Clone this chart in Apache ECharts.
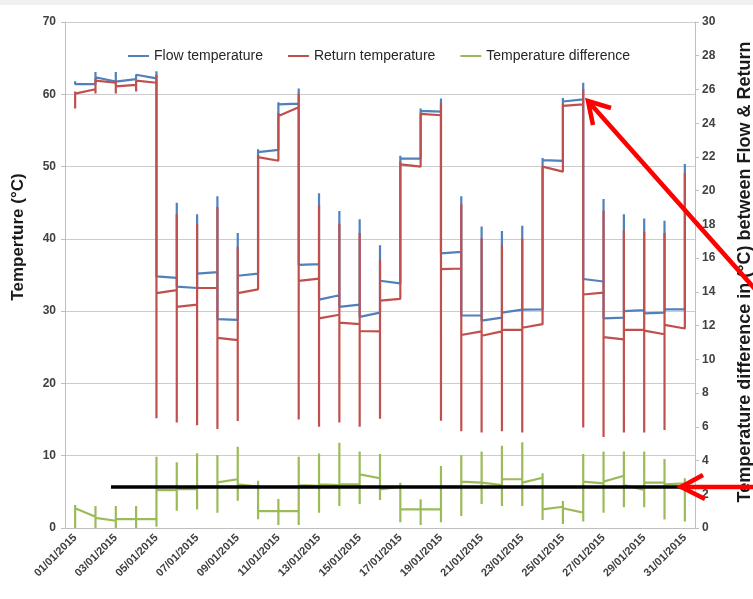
<!DOCTYPE html>
<html>
<head>
<meta charset="utf-8">
<script src="https://cdn.jsdelivr.net/npm/echarts@6/dist/echarts.min.js"></script>
<style>
  html, body { margin: 0; padding: 0; background: #fff; }
  #chart { width: 753px; height: 599px; }
</style>
</head>
<body>
<div id="chart"></div>
<script>
// days on the category axis
var days = ["01/01/2015", "02/01/2015", "03/01/2015", "04/01/2015", "05/01/2015", "06/01/2015",
  "07/01/2015", "08/01/2015", "09/01/2015", "10/01/2015", "11/01/2015", "12/01/2015",
  "13/01/2015", "14/01/2015", "15/01/2015", "16/01/2015", "17/01/2015", "18/01/2015",
  "19/01/2015", "20/01/2015", "21/01/2015", "22/01/2015", "23/01/2015", "24/01/2015",
  "25/01/2015", "26/01/2015", "27/01/2015", "28/01/2015", "29/01/2015", "30/01/2015",
  "31/01/2015"];

// readings of each day: first, lowest, highest, last (all drawn at the same day)
var flowFirst = [61.8, 61.4, 61.75, 62.1, 62.2, 34.6, 33.2, 35.4, 28.8, 35.2, 52.3, 58.7, 36.5, 32.2, 30.9, 29.8,
  33.85, 51.1, 57.6, 38.2, 29.4, 29.1, 30.2, 30.25, 50.8, 59.3, 34.1, 29.1, 30.15, 29.8, 30.25];
var flowLow = [61.4, 61.4, 61.75, 62.1, 34.8, 33.4, 33.2, 28.9, 28.8, 35.2, 52.3, 36.4, 31.6, 30.6, 29.2, 29.8,
  33.85, 51.1, 38.0, 29.4, 28.7, 29.1, 30.2, 30.25, 50.8, 34.45, 29.0, 29.1, 29.7, 29.8, 30.25];
var flowHigh = [61.8, 63.1, 63.1, 62.7, 63.2, 45.0, 43.4, 45.9, 40.8, 52.4, 58.9, 60.8, 46.3, 43.85, 42.7, 39.1,
  51.5, 58.05, 59.4, 45.9, 41.7, 41.1, 41.8, 51.2, 59.5, 61.6, 45.5, 43.4, 42.8, 42.5, 50.35];
var flowLast = [61.4, 62.35, 61.75, 62.6, 34.8, 33.4, 35.2, 28.9, 34.9, 52.0, 58.6, 36.4, 31.6, 30.6, 29.2, 34.2,
  51.1, 57.7, 38.0, 29.4, 28.7, 29.8, 30.2, 50.9, 59.0, 34.45, 29.0, 30.0, 29.7, 30.25, 50.35];

var returnFirst = [60.4, 60.7, 61.6, 61.3, 61.6, 32.9, 30.9, 33.2, 26.0, 33.0, 50.8, 58.2, 34.5, 29.5, 28.2, 27.2,
  31.7, 50.0, 57.1, 35.9, 27.2, 27.2, 27.4, 28.2, 49.3, 58.6, 32.55, 26.1, 27.4, 26.8, 27.6];
var returnLow = [58.05, 60.1, 60.1, 60.4, 15.2, 14.6, 14.2, 13.7, 14.8, 33.0, 50.8, 15.0, 14.0, 14.6, 14.0, 15.1,
  31.7, 50.0, 14.85, 13.4, 13.2, 13.4, 13.2, 28.2, 49.3, 13.9, 12.6, 13.2, 13.2, 13.55, 27.6];
var returnHigh = [60.4, 62.2, 61.9, 61.9, 62.7, 43.4, 42.1, 44.4, 38.9, 51.6, 57.4, 60.1, 44.7, 42.1, 40.8, 37.1,
  50.7, 57.3, 58.8, 44.8, 40.1, 39.2, 40.1, 50.0, 58.7, 60.7, 43.9, 41.2, 41.0, 40.8, 49.1];
var returnLast = [60.1, 61.9, 61.1, 61.75, 32.5, 30.6, 33.2, 26.3, 32.5, 51.3, 57.0, 34.2, 29.0, 28.4, 27.25, 31.45,
  50.3, 57.1, 35.8, 26.7, 26.6, 27.4, 27.7, 49.9, 58.4, 32.3, 26.4, 27.4, 27.3, 28.1, 49.1];

var diffFirst = [1.36, 0.67, 0.43, 0.53, 0.53, 2.25, 2.3, 2.45, 2.89, 2.45, 1.0, 1.0, 2.5, 2.55, 2.6, 2.95,
  2.45, 1.1, 1.1, 2.45, 2.69, 2.55, 2.89, 2.98, 1.26, 0.91, 2.65, 3.1, 2.25, 2.69, 2.65];
var diffLow = [0, 0, 0, 0, 0.08, 1.03, 1.1, 0.9, 1.62, 0.52, 0.18, 0.18, 0.91, 1.3, 1.42, 1.66,
  0.34, 0.18, 0.34, 0.71, 1.42, 1.3, 1.3, 0.47, 0.24, 0.38, 0.91, 1.23, 1.23, 0.51, 0.38];
var diffHigh = [1.36, 1.3, 1.3, 1.3, 4.23, 3.9, 4.43, 4.33, 4.82, 2.8, 1.72, 4.23, 4.42, 5.06, 4.53, 4.39,
  2.69, 1.7, 3.68, 4.33, 4.53, 4.88, 5.08, 3.24, 1.6, 4.39, 4.53, 4.53, 4.53, 4.09, 2.95];
var diffLast = [1.17, 0.6, 0.53, 0.53, 2.25, 2.3, 2.45, 2.71, 2.59, 1.0, 1.0, 2.55, 2.59, 2.59, 3.18, 2.29,
  1.1, 1.1, 2.45, 2.75, 2.69, 2.89, 2.69, 1.1, 1.17, 2.75, 2.75, 2.55, 2.69, 2.59, 2.95];

var leftTicks = { min: 0, max: 70, step: 10 };
var rightTicks = { min: 0, max: 30, step: 2 };

// every reading of a day sits on that day's category, so the line draws a vertical stroke
function dayPath(first, low, high, last) {
  var pts = [];
  for (var i = 0; i < days.length; i++) {
    pts.push([i, first[i]]);
    pts.push([i, low[i]]);
    pts.push([i, high[i]]);
    pts.push([i, last[i]]);
  }
  return pts;
}

var font = "Liberation Sans";
var chart = echarts.init(document.getElementById("chart"));

var option = {
  animation: false,
  backgroundColor: "#ffffff",
  textStyle: { fontFamily: font },
  grid: { left: 65, right: 58, top: 22, bottom: 71 },
  legend: {
    left: 128,
    top: 49,
    padding: 0,
    icon: "rect",
    itemWidth: 21,
    itemHeight: 2,
    itemGap: 25,
    textStyle: { fontSize: 14, color: "#262626", fontFamily: font },
    data: ["Flow temperature", "Return temperature", "Temperature difference"]
  },
  xAxis: {
    type: "category",
    data: days,
    boundaryGap: true,
    axisLine: { lineStyle: { color: "#bfbfbf", width: 1 } },
    axisTick: { interval: 1, length: 5, lineStyle: { color: "#bfbfbf" } },
    axisLabel: {
      interval: 1,
      rotate: 45,
      margin: 8,
      fontSize: 11,
      fontWeight: "bold",
      color: "#404040",
      fontFamily: font
    },
    splitLine: { show: false }
  },
  yAxis: [
    {
      type: "value",
      min: leftTicks.min,
      max: leftTicks.max,
      interval: leftTicks.step,
      axisLine: { show: true, lineStyle: { color: "#bfbfbf" } },
      axisTick: { show: true, length: 4, lineStyle: { color: "#bfbfbf" } },
      axisLabel: { margin: 9, fontSize: 12, fontWeight: "bold", color: "#404040", fontFamily: font },
      splitLine: { show: true, lineStyle: { color: "#cccccc", width: 1 } }
    },
    {
      type: "value",
      position: "right",
      min: rightTicks.min,
      max: rightTicks.max,
      interval: rightTicks.step,
      axisLine: { show: true, lineStyle: { color: "#bfbfbf" } },
      axisTick: { show: true, length: 4, lineStyle: { color: "#bfbfbf" } },
      axisLabel: { margin: 7, fontSize: 12, fontWeight: "bold", color: "#404040", fontFamily: font },
      splitLine: { show: false }
    }
  ],
  series: [
    {
      name: "Flow temperature",
      type: "line",
      symbol: "none",
      color: "#4F81BD",
      lineStyle: { width: 2.2, color: "#4F81BD" },
      data: dayPath(flowFirst, flowLow, flowHigh, flowLast)
    },
    {
      name: "Return temperature",
      type: "line",
      symbol: "none",
      color: "#C0504D",
      lineStyle: { width: 2.2, color: "#C0504D" },
      data: dayPath(returnFirst, returnLow, returnHigh, returnLast)
    },
    {
      name: "Temperature difference",
      type: "line",
      yAxisIndex: 1,
      symbol: "none",
      color: "#9BBB59",
      lineStyle: { width: 2.2, color: "#9BBB59" },
      data: dayPath(diffFirst, diffLow, diffHigh, diffLast)
    }
  ],
  graphic: [
    { type: "rect", shape: { x: 0, y: 0, width: 753, height: 5 }, style: { fill: "#f0f0f0" }, z: 0 },
    {
      type: "text", x: 18, y: 237, rotation: Math.PI / 2,
      style: { text: "Temperture (°C)", font: "bold 17px " + font, fill: "#1a1a1a", align: "center", verticalAlign: "middle" }
    },
    {
      type: "text", x: 745, y: 272, rotation: Math.PI / 2,
      style: { text: "Temperature difference in (°C) between Flow & Return", font: "bold 18px " + font, fill: "#1a1a1a", align: "center", verticalAlign: "middle" }
    },
    // annotation: black level line and red arrows drawn over the chart
    { type: "line", z: 100, shape: { x1: 111, y1: 487, x2: 680, y2: 487 }, style: { stroke: "#000000", lineWidth: 3.5 } },
    { type: "line", z: 101, shape: { x1: 680, y1: 487, x2: 755, y2: 487 }, style: { stroke: "#ff0000", lineWidth: 4.5 } },
    { type: "polyline", z: 101, shape: { points: [[703, 475], [681, 487], [705, 499]] }, style: { stroke: "#ff0000", lineWidth: 4.5, fill: null } },
    { type: "line", z: 101, shape: { x1: 588, y1: 101, x2: 755, y2: 289 }, style: { stroke: "#ff0000", lineWidth: 4.5 } },
    { type: "polyline", z: 101, shape: { points: [[611, 108], [588, 101], [593, 125]] }, style: { stroke: "#ff0000", lineWidth: 4.5, fill: null } }
  ]
};

chart.setOption(option);
</script>
</body>
</html>
